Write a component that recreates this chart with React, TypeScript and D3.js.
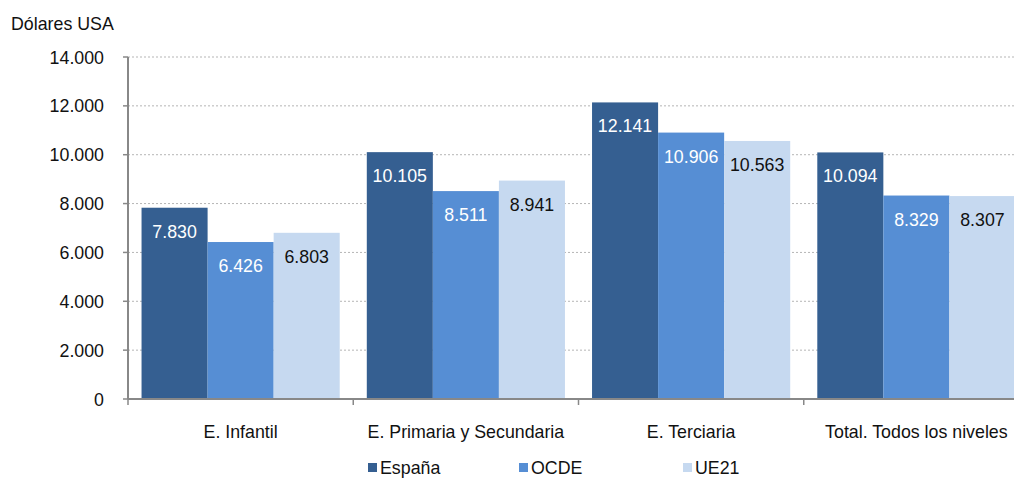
import React from "react";
import * as d3 from "d3";

const categories = ["E. Infantil", "E. Primaria y Secundaria", "E. Terciaria", "Total. Todos los niveles"];
const seriesNames = ["España", "OCDE", "UE21"];
const espana = [7830, 10105, 12141, 10094];
const ocde = [6426, 8511, 10906, 8329];
const ue21 = [6803, 8941, 10563, 8307];
const yTicks = [0, 2000, 4000, 6000, 8000, 10000, 12000, 14000];
const colors = ["#355f91", "#568ed4", "#c6d9f0"];
const labelColors = ["#ffffff", "#ffffff", "#111111"];

const W = 1014;
const H = 480;
const FONT = "Liberation Sans, Arial, sans-serif";
const FS = 17.8;

const fmt = (v: number) => {
  const s = Math.round(v).toString();
  return s.replace(/\B(?=(\d{3})+(?!\d))/g, ".");
};

export default function App() {
  const series = [espana, ocde, ue21];
  const y = d3.scaleLinear().domain([0, 14000]).range([399, 57]);
  const x = d3.scaleBand<string>().domain(categories).range([128, 1029]).padding(0);
  const xi = d3
    .scaleBand<string>()
    .domain(seriesNames)
    .range([0, x.bandwidth()])
    .paddingInner(0)
    .paddingOuter(0.205);
  const legendX = [368, 519, 683];

  return (
    <svg
      width={W}
      height={H}
      style={{ position: "absolute", left: 0, top: 0, background: "#fff" }}
      fontFamily={FONT}
    >
      <text x={11} y={30} fontSize={FS} fill="#111">Dólares USA</text>
      {yTicks.filter((t) => t > 0).map((t) => (
        <line key={"g" + t} x1={128} x2={W} y1={y(t)} y2={y(t)} stroke="#b5b5b5" strokeDasharray="2,2" strokeWidth={1} />
      ))}
      {categories.map((c, ci) => (
        <g key={c}>
          {seriesNames.map((s, si) => {
            const v = series[si][ci];
            const bx = (x(c) as number) + (xi(s) as number);
            return (
              <g key={s}>
                <rect x={bx} y={y(v)} width={xi.bandwidth()} height={y(0) - y(v)} fill={colors[si]} />
                <text
                  x={bx + xi.bandwidth() / 2}
                  y={y(v) + 30}
                  textAnchor="middle"
                  fontSize={FS}
                  fill={labelColors[si]}
                >
                  {fmt(v)}
                </text>
              </g>
            );
          })}
        </g>
      ))}
      <line x1={128} x2={128} y1={57} y2={399} stroke="#888" strokeWidth={2} />
      {yTicks.map((t) => (
        <g key={"t" + t}>
          <line x1={123} x2={128} y1={y(t)} y2={y(t)} stroke="#888" strokeWidth={1.5} />
          <text x={104} y={y(t) + 6.5} textAnchor="end" fontSize={FS} fill="#111">{fmt(t)}</text>
        </g>
      ))}
      <line x1={128} x2={W} y1={399} y2={399} stroke="#888" strokeWidth={2} />
      {categories.map((c) => (
        <line key={"xt" + c} x1={x(c) as number} x2={x(c) as number} y1={399} y2={405} stroke="#888" strokeWidth={1.5} />
      ))}
      {categories.map((c) => (
        <text
          key={"xl" + c}
          x={(x(c) as number) + x.bandwidth() / 2}
          y={438}
          textAnchor="middle"
          fontSize={FS}
          fill="#111"
        >
          {c}
        </text>
      ))}
      {seriesNames.map((s, i) => (
        <g key={"lg" + s}>
          <rect x={legendX[i]} y={463} width={9} height={9} fill={colors[i]} />
          <text x={legendX[i] + 12} y={474} fontSize={FS} fill="#111">{s}</text>
        </g>
      ))}
    </svg>
  );
}
